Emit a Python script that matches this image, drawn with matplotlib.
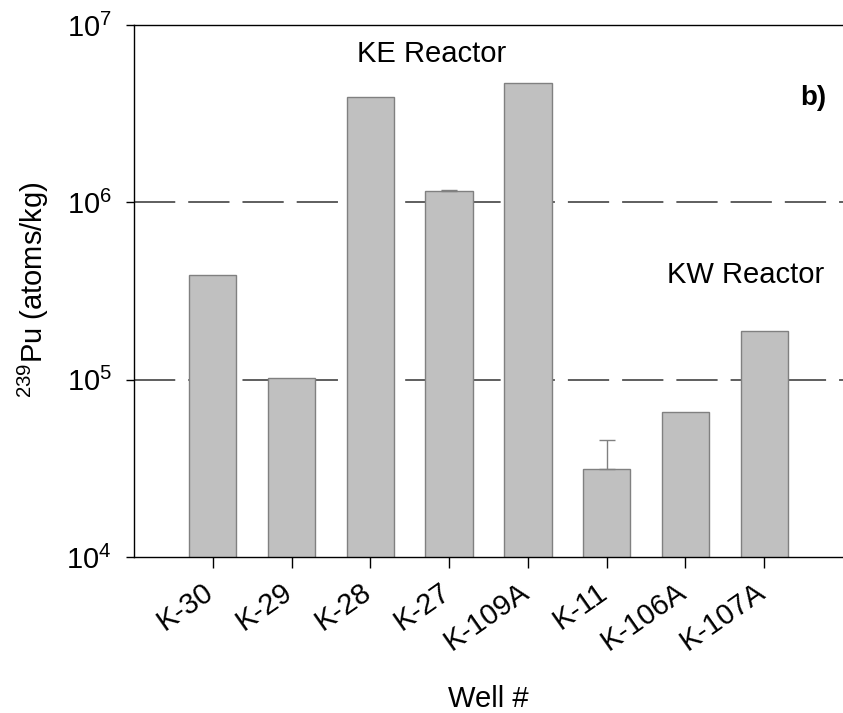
import numpy as np
import matplotlib
matplotlib.use("Agg")
import matplotlib.pyplot as plt
import matplotlib.transforms as mtransforms
from matplotlib.ticker import FixedLocator, FuncFormatter, NullLocator

plt.rcParams['font.family'] = ['Liberation Sans', 'DejaVu Sans']
plt.rcParams['mathtext.fontset'] = 'custom'
plt.rcParams['mathtext.rm'] = 'Liberation Sans'
plt.rcParams['mathtext.it'] = 'Liberation Sans:italic'
plt.rcParams['mathtext.bf'] = 'Liberation Sans:bold'

wells = ['K-30', 'K-29', 'K-28', 'K-27', 'K-109A', 'K-11', 'K-106A', 'K-107A']
pu239 = [3.90e5, 1.025e5, 3.93e6, 1.156e6, 4.68e6, 3.13e4, 6.59e4, 1.89e5]
pu239_err = [0, 0, 0, 1.5e4, 0, 1.42e4, 0, 0]
ref_levels = [1e5, 1e6]

fig = plt.figure(figsize=(8.43, 7.13), dpi=100)
ax = fig.add_axes([134 / 843, 156 / 713, 709 / 843, 532 / 713])

x = np.arange(len(wells))

for lvl in ref_levels:
    ax.axhline(lvl, color='#333333', lw=1.1, dashes=(27, 8.5), zorder=1)

ax.set_yscale('log')
ax.bar(x, pu239, width=0.6, color='#c0c0c0',
       edgecolor='#808080', linewidth=1.0, zorder=2)

for xi, v, e in zip(x, pu239, pu239_err):
    if e > 0:
        ax.errorbar(xi, v, yerr=[[0], [e]], fmt='none', ecolor='#808080',
                    elinewidth=1.0, capsize=6, capthick=1.0, zorder=3)

ax.set_ylim(1e4, 1e7)
ax.set_xlim(-1, 8)
ax.yaxis.set_major_locator(FixedLocator([1e4, 1e5, 1e6, 1e7]))
ax.yaxis.set_minor_locator(NullLocator())
ax.yaxis.set_major_formatter(FuncFormatter(lambda v, p: r'$10^{%d}$' % round(np.log10(v))))

ax.tick_params(axis='y', direction='out', length=6, width=1, labelsize=21, pad=10)
ax.tick_params(axis='x', direction='out', length=8, width=1, labelsize=21, pad=7)

ax.set_xticks(x)
ax.set_xticklabels(wells, rotation=35, ha='right')
# nudge the rotated labels to the right, as in the original
shift = mtransforms.ScaledTranslation(6 / 100, 0, fig.dpi_scale_trans)
for lab in ax.get_xticklabels():
    lab.set_transform(lab.get_transform() + shift)

ax.spines['right'].set_visible(False)
for s in ['left', 'bottom', 'top']:
    ax.spines[s].set_linewidth(1.0)

fig.text(33 / 843, 1 - 290 / 713, r'$^{239}$Pu (atoms/kg)', rotation=90,
         ha='center', va='center', fontsize=21)
fig.text(488.5 / 843, 1 - 707 / 713, 'Well #', ha='center', va='baseline', fontsize=21)

fig.text(356.7 / 843, 1 - 61.7 / 713, 'KE Reactor', ha='left', va='baseline', fontsize=21)
fig.text(666.7 / 843, 1 - 282.7 / 713, 'KW Reactor', ha='left', va='baseline', fontsize=21)
fig.text(800.7 / 843, 1 - 105 / 713, 'b)', ha='left', va='baseline', fontsize=20,
         fontweight='bold')

fig.savefig('out.png', dpi=100)
